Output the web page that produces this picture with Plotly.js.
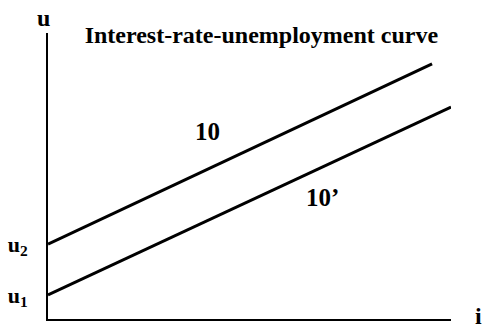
<!DOCTYPE html>
<html>
<head>
<meta charset="utf-8">
<script src="https://cdn.plot.ly/plotly-3.0.1.min.js"></script>
<style>html,body{margin:0;padding:0;background:#fff;}#chart{width:484px;height:332px;}</style>
</head>
<body>
<div id="chart"></div>
<script>
// Schematic values (interest rate i on x, unemployment u on y)
const curveNames = ['10', '10’'];
const curve10_i = [0, 9.53];
const curve10_u = [2.62, 8.92];
const curve10p_i = [0, 10.0];
const curve10p_u = [0.84, 7.41];
const uTickVals = [0.84, 2.62];
const uTickText = ['u<sub>1</sub>', 'u<sub>2</sub>'];
const titleText = 'Interest-rate-unemployment curve';
const xLabel = 'i';
const yLabel = 'u';

const F = 'Liberation Serif';
const lineStyle = {color: '#000', width: 3};

const traces = [
  {x: curve10_i, y: curve10_u, mode: 'lines', line: lineStyle, name: curveNames[0], hoverinfo: 'skip'},
  {x: curve10p_i, y: curve10p_u, mode: 'lines', line: lineStyle, name: curveNames[1], hoverinfo: 'skip'}
];

const layout = {
  width: 484, height: 332,
  margin: {l: 48, r: 33, t: 33, b: 13, pad: 0},
  paper_bgcolor: '#fff', plot_bgcolor: '#fff',
  showlegend: false,
  font: {family: F, color: '#000', size: 22},
  title: {text: titleText, x: 0.54, xanchor: 'center', y: 0.895, yanchor: 'middle',
          font: {family: F, size: 24, color: '#000', weight: 'bold'}},
  xaxis: {range: [0, 10], showline: true, linewidth: 2, linecolor: '#000', showgrid: false,
          zeroline: false, showticklabels: false, ticks: '', fixedrange: true},
  yaxis: {range: [0, 10], showline: true, linewidth: 2, linecolor: '#000', showgrid: false,
          zeroline: false, ticks: '', tickvals: uTickVals, ticktext: uTickText,
          tickfont: {family: F, size: 22, color: '#000', weight: 'bold'}, ticklabelstandoff: 14, fixedrange: true},
  annotations: [
    {text: curveNames[0], x: 3.97, y: 6.54, xref: 'x', yref: 'y', showarrow: false,
     xanchor: 'center', yanchor: 'middle',
     font: {family: F, size: 25, color: '#000', weight: 'bold'}},
    {text: curveNames[1], x: 6.8, y: 4.25, xref: 'x', yref: 'y', showarrow: false,
     xanchor: 'center', yanchor: 'middle',
     font: {family: F, size: 25, color: '#000', weight: 'bold'}},
    {text: yLabel, x: -0.012, y: 1.052, xref: 'paper', yref: 'paper', showarrow: false,
     xanchor: 'center', yanchor: 'middle',
     font: {family: F, size: 24, color: '#000', weight: 'bold'}},
    {text: xLabel, x: 1.069, y: 0.01, xref: 'paper', yref: 'paper', showarrow: false,
     xanchor: 'center', yanchor: 'middle',
     font: {family: F, size: 24, color: '#000', weight: 'bold'}}
  ]
};

Plotly.newPlot('chart', traces, layout, {staticPlot: true, displayModeBar: false});
</script>
</body>
</html>
